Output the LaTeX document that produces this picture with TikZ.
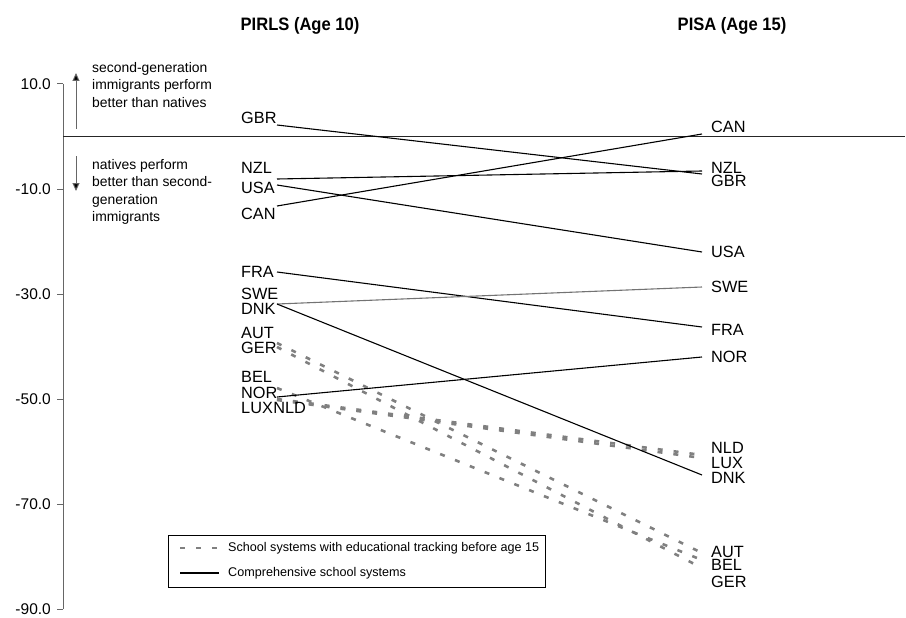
\documentclass[tikz,border=0pt]{standalone}
\usepackage{fontspec}
\setmainfont{Liberation Sans}
\usetikzlibrary{arrows.meta}
\begin{document}
\begin{tikzpicture}[x=1pt,y=-1pt,
  lbl/.style={anchor=west,inner sep=0pt,font=\fontsize{16.3}{18}\selectfont},
  ticklbl/.style={anchor=east,inner sep=0pt,font=\fontsize{15.5}{18}\selectfont},
  note/.style={anchor=north west,inner sep=0pt,align=left,font=\fontsize{13.9}{17.2}\selectfont},
  head/.style={inner sep=0pt,font=\fontsize{18}{20}\selectfont\bfseries},
  legtext/.style={anchor=west,inner sep=0pt,font=\fontsize{12.6}{15}\selectfont},
  axisline/.style={draw=black!60,line width=1pt},
  comp/.style={draw=black,line width=1.1pt},
  compgray/.style={draw=black!55,line width=1.1pt},
  track/.style={draw=black!50,line width=2.6pt,dash pattern=on 5pt off 11pt},
  notearrow/.style={draw=black!60,line width=1pt,-{Triangle[length=8pt,width=7pt,fill=black]}}]
\useasboundingbox (0,0) rectangle (906,618);

% headers
\node[head] (hpirls) at (300,26) {\scalebox{0.92}[1]{PIRLS (Age 10)}};
\node[head] (hpisa) at (732,26) {\scalebox{0.92}[1]{PISA (Age 15)}};

% axis
\coordinate (atop) at (63,84);
\coordinate (abot) at (63,609);
\draw[axisline] (atop) -- (abot);
\foreach \v/\y in {10.0/84,-10.0/189,-30.0/294,-50.0/399,-70.0/504,-90.0/609}{
  \draw[axisline] (57,\y) -- (63,\y);
  \node[ticklbl] (t\y) at (51,\y) {\v};
}
% zero line
\coordinate (z0) at (63,136.5);
\coordinate (z1) at (905,136.5);
\draw[black!85,line width=1pt] (z0) -- (z1);

% annotation arrows and notes
\coordinate (ua0) at (76,129); \coordinate (ua1) at (76,73);
\coordinate (da0) at (76,156); \coordinate (da1) at (76,191);
\draw[notearrow] (ua0) -- (ua1);
\draw[notearrow] (da0) -- (da1);
\node[note] (nup) at (92,62.5) {second-generation\\immigrants perform\\better than natives};
\node[note] (ndown) at (92,159.5) {natives perform\\better than second-\\generation\\immigrants};

% PIRLS end points
\coordinate (pGBR) at (277,125);
\coordinate (pNZL) at (277,179);
\coordinate (pUSA) at (277,185);
\coordinate (pCAN) at (277,206);
\coordinate (pFRA) at (277,272);
\coordinate (pSWE) at (277,304);
\coordinate (pDNK) at (277,304);
\coordinate (pAUT) at (277,343);
\coordinate (pGER) at (277,347);
\coordinate (pBEL) at (277,388);
\coordinate (pNOR) at (277,397);
\coordinate (pLUX) at (277,400);
\coordinate (pNLD) at (277,399);
% PISA end points
\coordinate (qCAN) at (702,134);
\coordinate (qNZL) at (702,171);
\coordinate (qGBR) at (702,174);
\coordinate (qUSA) at (702,252);
\coordinate (qSWE) at (702,287);
\coordinate (qFRA) at (702,327);
\coordinate (qNOR) at (702,357);
\coordinate (qNLD) at (702,455);
\coordinate (qLUX) at (702,458);
\coordinate (qDNK) at (702,475);
\coordinate (qAUT) at (702,553);
\coordinate (qBEL) at (702,560);
\coordinate (qGER) at (702,568);

% tracking systems
\draw[track] (pAUT) -- (qAUT);
\draw[track] (pGER) -- (qGER);
\draw[track] (pBEL) -- (qBEL);
\draw[track] (pLUX) -- (qLUX);
\draw[track] (pNLD) -- (qNLD);
% comprehensive systems
\draw[comp] (pGBR) -- (qGBR);
\draw[comp] (pNZL) -- (qNZL);
\draw[comp] (pUSA) -- (qUSA);
\draw[comp] (pCAN) -- (qCAN);
\draw[comp] (pFRA) -- (qFRA);
\draw[compgray] (pSWE) -- (qSWE);
\draw[comp] (pDNK) -- (qDNK);
\draw[comp] (pNOR) -- (qNOR);

% left labels
\node[lbl] (lGBR) at (241,118) {GBR};
\node[lbl] (lNZL) at (241,168) {NZL};
\node[lbl] (lUSA) at (241,188) {USA};
\node[lbl] (lCAN) at (241,214) {CAN};
\node[lbl] (lFRA) at (241,272) {FRA};
\node[lbl] (lSWE) at (241,294) {SWE};
\node[lbl] (lDNK) at (241,309) {DNK};
\node[lbl] (lAUT) at (241,333) {AUT};
\node[lbl] (lGER) at (241,348) {GER};
\node[lbl] (lBEL) at (241,377) {BEL};
\node[lbl] (lNOR) at (241,393) {NOR};
\node[lbl] (lLUX) at (241,408) {LUX};
\node[lbl] (lNLD) at (lLUX.east) {NLD};

% right labels
\node[lbl] (rCAN) at (711,127) {CAN};
\node[lbl] (rNZL) at (711,168) {NZL};
\node[lbl] (rGBR) at (711,181) {GBR};
\node[lbl] (rUSA) at (711,252) {USA};
\node[lbl] (rSWE) at (711,287) {SWE};
\node[lbl] (rFRA) at (711,330) {FRA};
\node[lbl] (rNOR) at (711,357) {NOR};
\node[lbl] (rNLD) at (711,448) {NLD};
\node[lbl] (rLUX) at (711,463) {LUX};
\node[lbl] (rDNK) at (711,478) {DNK};
\node[lbl] (rAUT) at (711,552) {AUT};
\node[lbl] (rBEL) at (711,565) {BEL};
\node[lbl] (rGER) at (711,582) {GER};

% legend
\node[draw=black,line width=1pt,minimum width=377pt,minimum height=52pt,inner sep=0pt] (legend) at (356.5,561) {};
\coordinate (lt0) at (180,548); \coordinate (lt1) at (219,548);
\coordinate (lc0) at (180,573); \coordinate (lc1) at (219,573);
\draw[track] (lt0) -- (lt1);
\draw[comp] (lc0) -- (lc1);
\node[legtext] (legA) at (228,548) {School systems with educational tracking before age 15};
\node[legtext] (legB) at (228,573) {Comprehensive school systems};
\end{tikzpicture}
\end{document}
